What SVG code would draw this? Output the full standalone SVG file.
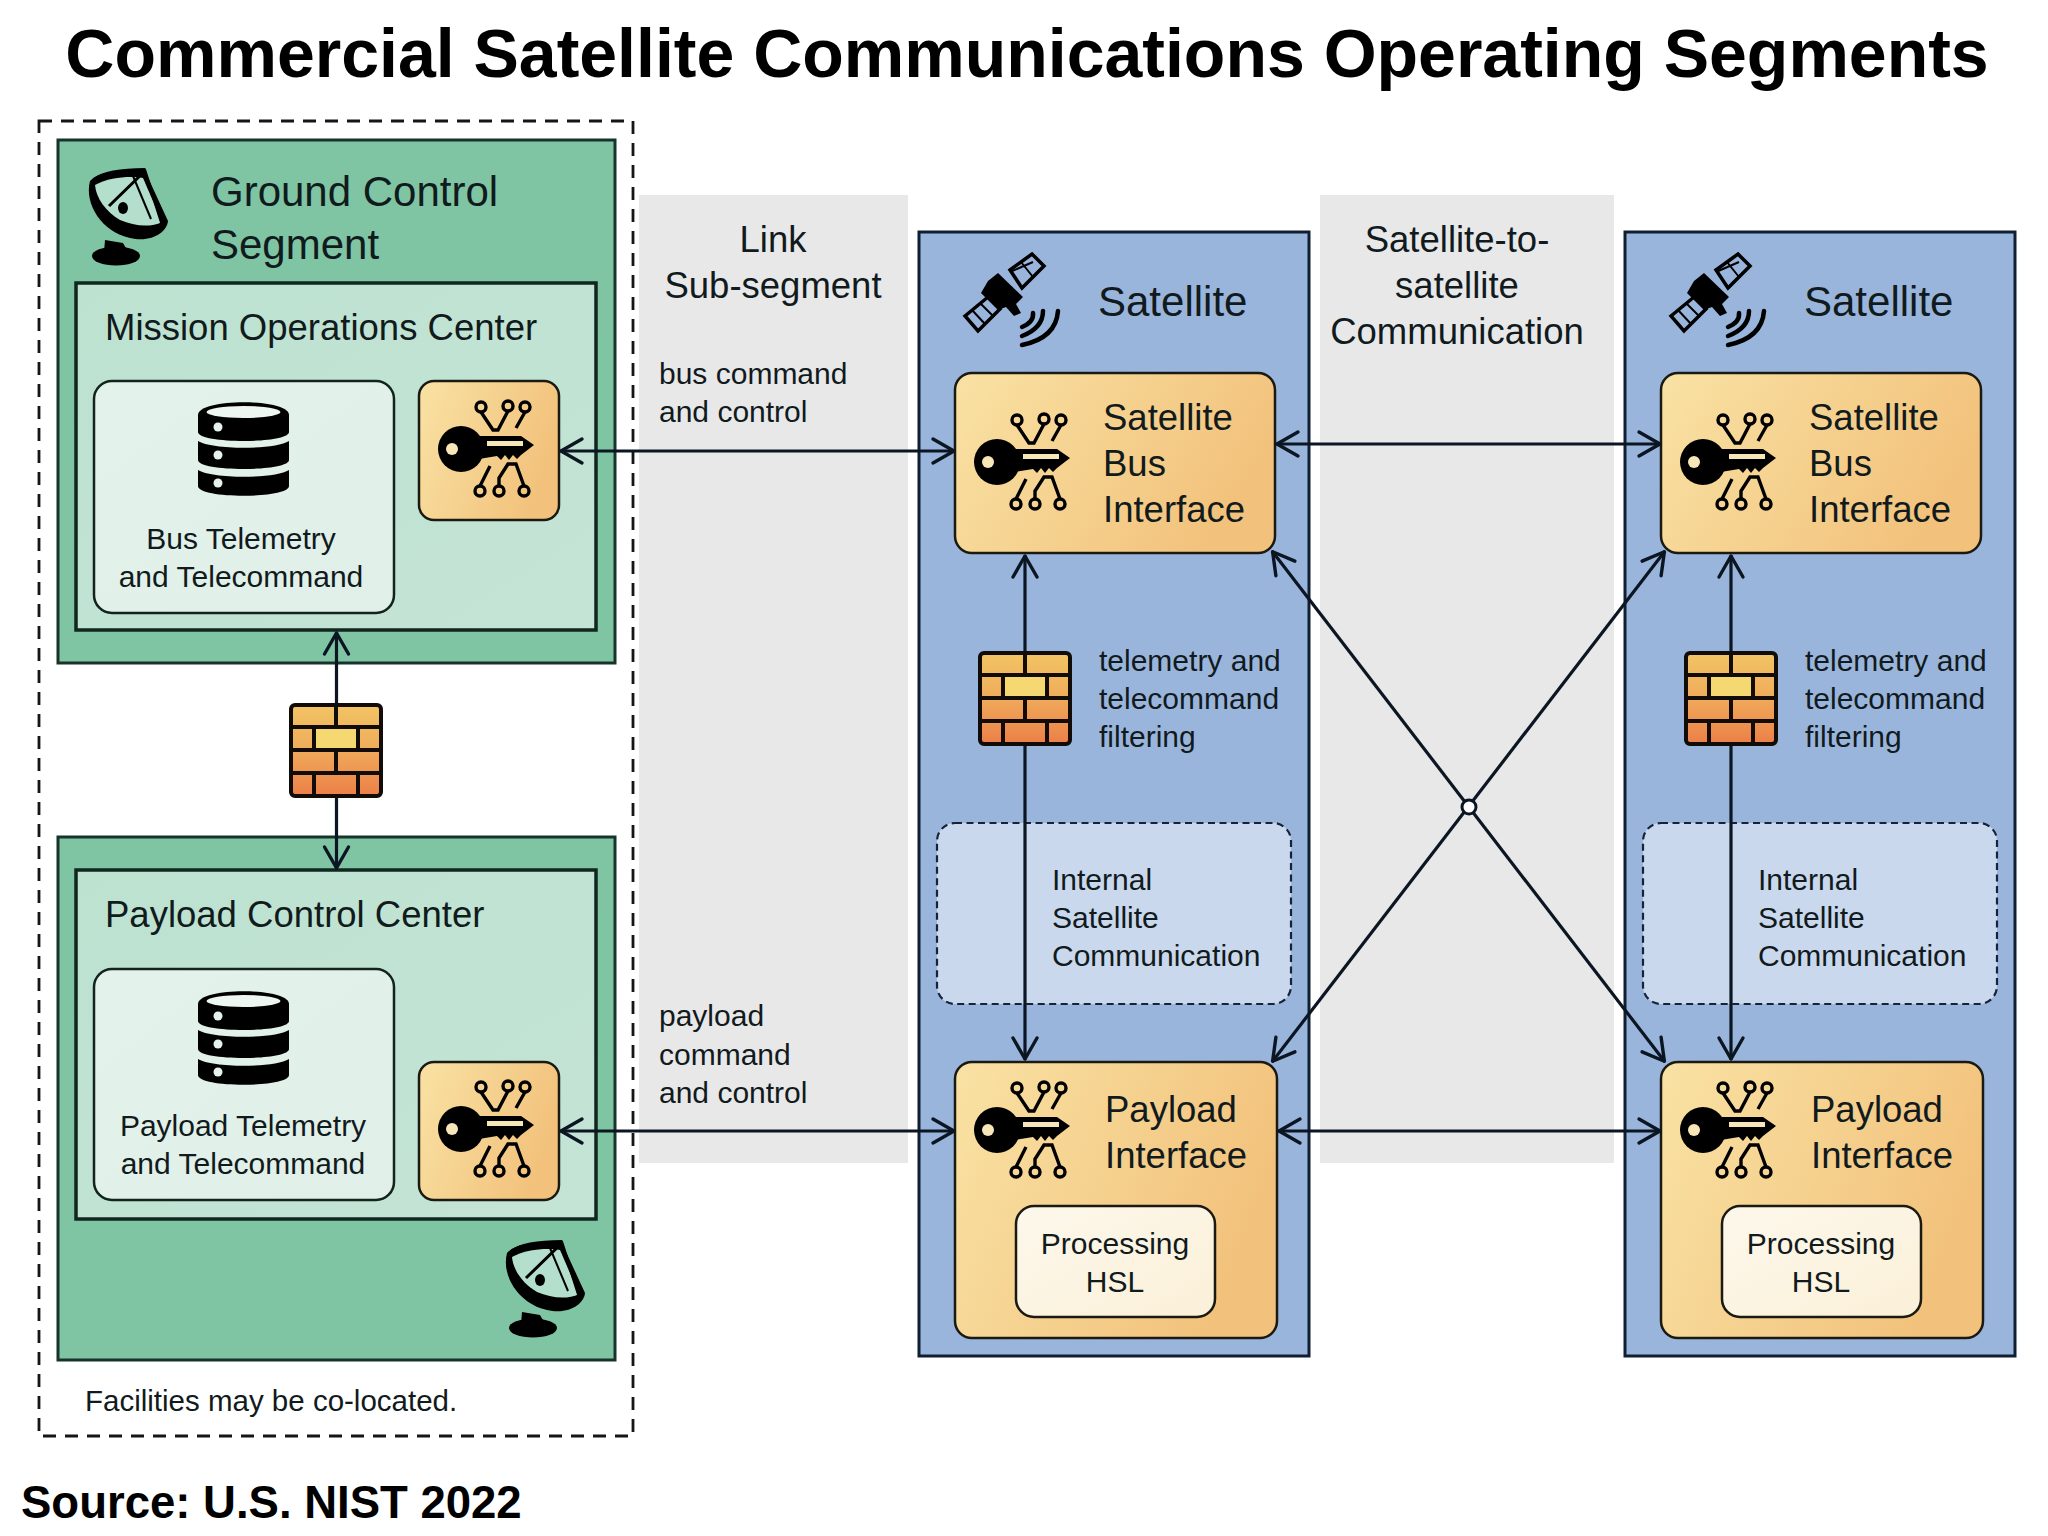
<svg xmlns="http://www.w3.org/2000/svg" xmlns:xlink="http://www.w3.org/1999/xlink" width="2048" height="1536" viewBox="0 0 2048 1536">
<style>
text{font-family:"Liberation Sans",Arial,sans-serif;fill:#111a1c}
.title{font-weight:700;fill:#000}
.f42{font-size:42px}.f36{font-size:36.5px}.f30{font-size:30px}
.m{text-anchor:middle}
.seg{fill:#7fc5a4;stroke:#17332b;stroke-width:3}
.center{fill:url(#lg);stroke:#10261f;stroke-width:3.5}
.store{fill:url(#lg2);stroke:#13241f;stroke-width:2.5}
.amber{fill:url(#am);stroke:#1b1a12;stroke-width:2.5}
.sat{fill:#9ab5dc;stroke:#0f1e30;stroke-width:3}
.band{fill:#e8e8e9}
.inner{fill:#c9d8ec;stroke:#14233a;stroke-width:2.2;stroke-dasharray:7 4.5}
.proc{fill:url(#pr);stroke:#1b1a12;stroke-width:2.5}
.c line{stroke:#0b1622;stroke-width:3.2;marker-start:url(#ah);marker-end:url(#ah)}
</style>
<defs>
<linearGradient id="am" x1="0" y1="0" x2="1" y2="0.35"><stop offset="0" stop-color="#f9e2a4"/><stop offset="1" stop-color="#f2c27c"/></linearGradient>
<linearGradient id="lg" x1="0" y1="0" x2="1" y2="1"><stop offset="0" stop-color="#bde2d0"/><stop offset="1" stop-color="#c4e4d6"/></linearGradient>
<linearGradient id="lg2" x1="0" y1="0" x2="1" y2="1"><stop offset="0" stop-color="#e3f2ea"/><stop offset="1" stop-color="#e0f0e8"/></linearGradient>
<linearGradient id="pr" x1="0" y1="0" x2="1" y2="1"><stop offset="0" stop-color="#fdf8ec"/><stop offset="1" stop-color="#fbf0d8"/></linearGradient>
<linearGradient id="brick" x1="0" y1="0" x2="0" y2="1"><stop offset="0" stop-color="#f2c464"/><stop offset="0.45" stop-color="#f0ae5c"/><stop offset="1" stop-color="#ec7f48"/></linearGradient>
<marker id="ah" viewBox="-26 -15 30 30" refX="0" refY="0" markerWidth="30" markerHeight="30" markerUnits="userSpaceOnUse" orient="auto-start-reverse">
<path d="M-22,-12 L-1,0 L-22,12" fill="none" stroke="#0b1622" stroke-width="3.4" stroke-linecap="round" stroke-linejoin="round"/>
</marker>
<g id="key">
<circle cx="0" cy="0" r="23" fill="#000"/>
<circle cx="-9" cy="0" r="6" fill="#f7e6b8"/>
<path d="M14,-13 H60 L73,-4 L60,6 L56,10 L52,6 L48,11 L44,6 L40,11 L36,7 L18,10 Z" fill="#000"/>
<rect x="26" y="-8" width="36" height="5" fill="#f7e6b8"/>
<g fill="none" stroke="#000" stroke-width="3.4">
<circle cx="20" cy="-42" r="5"/><circle cx="47" cy="-43" r="5"/><circle cx="64" cy="-42" r="5"/>
<circle cx="19" cy="42" r="5"/><circle cx="38" cy="42" r="5"/><circle cx="63" cy="42" r="5"/>
<path d="M20,-37 L32,-19 H37 L47,-38"/><path d="M64,-37 L55,-21"/>
<path d="M19,37 L29,17"/><path d="M38,37 V29 L47,15 H55 L63,37"/>
</g>
</g>
<g id="db">
<path d="M198,415 C198,398 289,398 289,415 V432 C289,444 198,444 198,432 Z" fill="#000"/>
<ellipse cx="243.500" cy="412" rx="37" ry="6" fill="#eef6f1"/>
<path d="M198,441 C212,450 275,450 289,441 V460 C289,472 198,472 198,460 Z" fill="#000"/>
<path d="M198,470 C212,479 275,479 289,470 V486 C289,499 198,499 198,486 Z" fill="#000"/>
<circle cx="218" cy="427" r="4.500" fill="#e6f2ec"/><circle cx="218" cy="455" r="4.500" fill="#e6f2ec"/><circle cx="218" cy="483" r="4.500" fill="#e6f2ec"/>
</g>
<g id="dish">
<path d="M90,181 C84,204 102,232 130,238 C152,243 167,232 168,221 L145,171 C125,170 100,170 90,181 Z" fill="#000"/>
<path d="M95,185 C110,177 130,176 143,178 L162,222 C150,228 134,226 120,220 C106,212 96,198 95,185 Z" fill="#b4dfcd"/>
<path d="M94,180 C105,172 125,170 145,170" fill="none" stroke="#000" stroke-width="4"/>
<path d="M109,206 L145,171 L162,224" fill="none" stroke="#000" stroke-width="3"/>
<path d="M133,176 L151,219" fill="none" stroke="#000" stroke-width="2"/>
<ellipse cx="123" cy="208" rx="5" ry="6" fill="#000"/>
<path d="M105,240 L123,243 L127,250 L129,252 H104 Z" fill="#000"/>
<ellipse cx="116" cy="256" rx="24" ry="9.500" fill="#000"/>
</g>
<g id="wall">
<rect x="2" y="2" width="90" height="91" rx="4" fill="url(#brick)"/>
<rect x="27" y="25" width="40" height="22" fill="#f5d872"/>
<g fill="none" stroke="#120c08" stroke-width="4">
<rect x="2" y="2" width="90" height="91" rx="4"/>
<path d="M2,24 H92 M2,47 H92 M2,70 H92"/>
<path d="M47,2 V24 M25,24 V47 M69,24 V47 M47,47 V70 M25,70 V93 M69,70 V93"/>
</g>
</g>
<g id="satellite">
<path d="M1010,270 L1032,254 L1044,266 L1022,288 Z M965,316 L988,297 L1000,309 L978,331 Z" fill="none" stroke="#000" stroke-width="3.500"/>
<path d="M1021,262 L1033,277 M1010,272 L1033,262 M972,310 L985,324 M980,303 L994,317" fill="none" stroke="#000" stroke-width="2"/>
<path d="M988,281 L998,273 L1023,297 L1016,304 L1021,313 L1014,316 L1006,307 L998,310 L981,293 Z" fill="#000"/>
<path d="M1033,313 Q1034,322 1022,327 M1043,311 Q1043,328 1022,336 M1058,311 Q1056,338 1022,345" fill="none" stroke="#000" stroke-width="4.500" stroke-linecap="round"/>
</g>
</defs>
<rect width="2048" height="1536" fill="#fff"/>
<text class="title" x="1027" y="77" font-size="68" text-anchor="middle">Commercial Satellite Communications Operating Segments</text>
<text class="title" x="21" y="1518" font-size="45.500">Source: U.S. NIST 2022</text>

<g id="link-subsegment"><rect class="band" x="639" y="195" width="269" height="968"/>
<text class="f36 m" x="773" y="252">Link</text><text class="f36 m" x="773" y="298">Sub-segment</text>
<text class="f30" x="659" y="384">bus command</text><text class="f30" x="659" y="422">and control</text>
<text class="f30" x="659" y="1026">payload</text><text class="f30" x="659" y="1065">command</text><text class="f30" x="659" y="1103">and control</text></g>

<g id="sat-to-sat"><rect class="band" x="1320" y="195" width="294" height="968"/>
<text class="f36 m" x="1457" y="252">Satellite-to-</text><text class="f36 m" x="1457" y="298">satellite</text><text class="f36 m" x="1457" y="344">Communication</text></g>

<g id="facilities"><rect x="39" y="121" width="594" height="1315" fill="none" stroke="#151515" stroke-width="2.800" stroke-dasharray="13 9"/>
<text x="85" y="1411" font-size="29.500">Facilities may be co-located.</text></g>

<g id="ground-segment"><rect class="seg" x="58" y="140" width="557" height="523"/>
<use href="#dish"/>
<text class="f42" x="211" y="206">Ground Control</text><text class="f42" x="211" y="259">Segment</text></g>

<g id="mission-ops"><rect class="center" x="76" y="283" width="520" height="347"/>
<text class="f36" x="105" y="340">Mission Operations Center</text></g>

<g id="bus-telemetry"><rect class="store" x="94" y="381" width="300" height="232" rx="18"/>
<use href="#db"/>
<text class="f30 m" x="241" y="549">Bus Telemetry</text><text class="f30 m" x="241" y="587">and Telecommand</text></g>

<g id="moc-key"><rect class="amber" x="419" y="381" width="140" height="139" rx="15"/><use href="#key" transform="translate(461 449)"/></g>

<g id="payload-segment"><rect class="seg" x="58" y="837" width="557" height="523"/>
<use href="#dish" transform="translate(417 1072)"/></g>

<g id="payload-control"><rect class="center" x="76" y="870" width="520" height="349"/>
<text class="f36" x="105" y="927">Payload Control Center</text></g>

<g id="payload-telemetry"><rect class="store" x="94" y="969" width="300" height="231" rx="18"/>
<use href="#db" transform="translate(0 589)"/>
<text class="f30 m" x="243" y="1136">Payload Telemetry</text><text class="f30 m" x="243" y="1174">and Telecommand</text></g>

<g id="pcc-key"><rect class="amber" x="419" y="1062" width="140" height="138" rx="15"/><use href="#key" transform="translate(461 1129)"/></g>

<g id="satellite-1"><rect class="sat" x="919" y="232" width="390" height="1124"/>
<use href="#satellite"/>
<text class="f42" x="1098" y="316">Satellite</text></g>
<g id="internal-1"><rect class="inner" x="937" y="823" width="354" height="181" rx="18"/>
<text class="f30" x="1052" y="890">Internal</text><text class="f30" x="1052" y="928">Satellite</text><text class="f30" x="1052" y="966">Communication</text></g>
<g id="bus-if-1"><rect class="amber" x="955" y="373" width="320" height="180" rx="17"/><use href="#key" transform="translate(997 462)"/>
<text class="f36" x="1103" y="430">Satellite</text><text class="f36" x="1103" y="476">Bus</text><text class="f36" x="1103" y="522">Interface</text></g>
<g id="payload-if-1"><rect class="amber" x="955" y="1062" width="322" height="276" rx="17"/><use href="#key" transform="translate(997 1130)"/>
<text class="f36" x="1105" y="1122">Payload</text><text class="f36" x="1105" y="1168">Interface</text>
<rect class="proc" x="1016" y="1206" width="199" height="111" rx="18"/>
<text class="f30 m" x="1115" y="1254">Processing</text><text class="f30 m" x="1115" y="1292">HSL</text></g>

<g id="satellite-2"><rect class="sat" x="1625" y="232" width="390" height="1124"/>
<use href="#satellite" transform="translate(706 0)"/>
<text class="f42" x="1804" y="316">Satellite</text></g>
<g id="internal-2"><rect class="inner" x="1643" y="823" width="354" height="181" rx="18"/>
<text class="f30" x="1758" y="890">Internal</text><text class="f30" x="1758" y="928">Satellite</text><text class="f30" x="1758" y="966">Communication</text></g>
<g id="bus-if-2"><rect class="amber" x="1661" y="373" width="320" height="180" rx="17"/><use href="#key" transform="translate(1703 462)"/>
<text class="f36" x="1809" y="430">Satellite</text><text class="f36" x="1809" y="476">Bus</text><text class="f36" x="1809" y="522">Interface</text></g>
<g id="payload-if-2"><rect class="amber" x="1661" y="1062" width="322" height="276" rx="17"/><use href="#key" transform="translate(1703 1130)"/>
<text class="f36" x="1811" y="1122">Payload</text><text class="f36" x="1811" y="1168">Interface</text>
<rect class="proc" x="1722" y="1206" width="199" height="111" rx="18"/>
<text class="f30 m" x="1821" y="1254">Processing</text><text class="f30 m" x="1821" y="1292">HSL</text></g>

<g id="connectors" class="c">
<line x1="560" y1="451" x2="955" y2="451"/>
<line x1="560" y1="1131" x2="955" y2="1131"/>
<line x1="1276" y1="444" x2="1661" y2="444"/>
<line x1="1278" y1="1131" x2="1661" y2="1131"/>
<line x1="336.500" y1="632" x2="336.500" y2="869"/>
<line x1="1025" y1="555" x2="1025" y2="1060"/>
<line x1="1731" y1="555" x2="1731" y2="1060"/>
<line x1="1272" y1="551" x2="1665" y2="1062"/>
<line x1="1665" y1="551" x2="1272" y2="1062"/>
</g>
<g id="junction"><circle cx="1469" cy="807" r="7" fill="#fff" stroke="#0b1622" stroke-width="3"/></g>

<g id="firewall-ground"><use href="#wall" transform="translate(289 703)"/></g>
<g id="firewall-1"><use href="#wall" transform="translate(978 651)"/></g>
<text class="f30" x="1099" y="671">telemetry and</text><text class="f30" x="1099" y="709">telecommand</text><text class="f30" x="1099" y="747">filtering</text>
<g id="firewall-2"><use href="#wall" transform="translate(1684 651)"/></g>
<text class="f30" x="1805" y="671">telemetry and</text><text class="f30" x="1805" y="709">telecommand</text><text class="f30" x="1805" y="747">filtering</text>
</svg>
